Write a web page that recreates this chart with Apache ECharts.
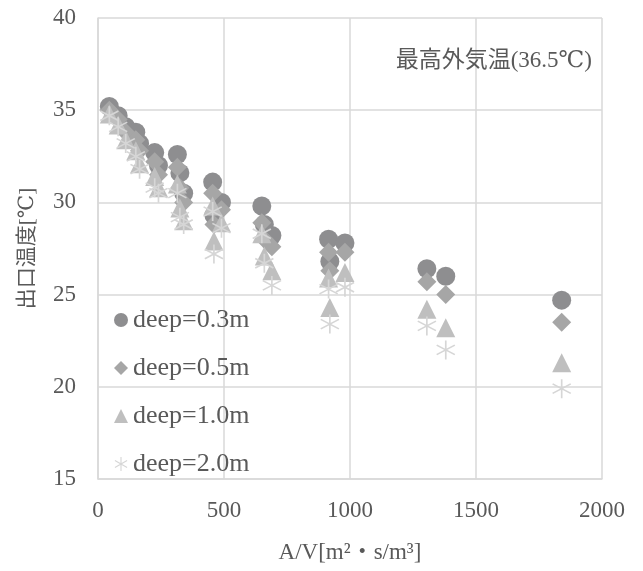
<!DOCTYPE html>
<html><head><meta charset="utf-8">
<script src="https://cdn.jsdelivr.net/npm/echarts@6/dist/echarts.min.js"></script>
<style>html,body{margin:0;padding:0;background:#fff}#c{width:643px;height:571px}</style>
</head><body><div id="c"></div>
<script>
const xValues = [45, 80, 110, 150, 165, 225, 240, 315, 325, 340, 455, 460, 490, 650, 660, 690, 915, 920, 980, 1305, 1380, 1840];
const deep03 = [35.2, 34.7, 34.1, 33.8, 33.2, 32.7, 32.0, 32.6, 31.6, 30.5, 31.1, 29.3, 30.0, 29.8, 28.8, 28.2, 28.0, 26.8, 27.8, 26.4, 26.0, 24.7];
const deep05 = [35.0, 34.5, 33.8, 33.4, 32.8, 32.2, 31.5, 31.9, 30.8, 30.0, 30.5, 28.8, 29.6, 28.9, 28.0, 27.6, 27.3, 26.3, 27.3, 25.7, 25.0, 23.5];
const deep10 = [34.8, 34.2, 33.4, 32.8, 32.1, 31.4, 30.8, 31.0, 29.7, 29.0, 29.8, 27.9, 28.9, 28.3, 27.1, 26.3, 25.9, 24.3, 26.2, 24.2, 23.2, 21.3];
const deep20 = [34.7, 34.1, 33.2, 32.5, 31.8, 30.8, 30.5, 30.5, 29.2, 28.8, 29.5, 27.2, 28.6, 28.3, 26.7, 25.5, 25.3, 23.4, 25.4, 23.3, 22.0, 19.9];
const seriesNames = ['deep=0.3m', 'deep=0.5m', 'deep=1.0m', 'deep=2.0m'];
const xTicks = [0, 500, 1000, 1500, 2000];
const yTicks = [15, 20, 25, 30, 35, 40];
const annotation = '最高外気温(36.5℃)';
const xName = 'A/V[m²・s/m³]';
const yName = '出口温度[℃]';

const FONT = '"Liberation Serif", "DejaVu Serif", "Noto Sans CJK JP", serif';
const TXT = '#595959';
const GRID = '#d9d9d9';
const star = 'path://M-0.8,10 L-0.8,-10 L0.8,-10 L0.8,10 Z M8.26,5.693 L-9.06,-4.307 L-8.26,-5.693 L9.06,4.307 Z M9.06,-4.307 L-8.26,5.693 L-9.06,4.307 L8.26,-5.693 Z';

function pts(ys){ return xValues.map((x,i)=>[x, ys[i]]); }
const chart = echarts.init(document.getElementById('c'), null, {renderer:'canvas'});
const symbols = ['circle','diamond','triangle',star];
const colors = ['#8e8e90','#a6a6a6','#bfbfbf','#d6d6d6'];
const sizes = [19,19,19,19];
const data = [deep03, deep05, deep10, deep20];
chart.setOption({
  animation:false,
  textStyle:{fontFamily:FONT},
  title:{text:annotation, right:46, top:44, textStyle:{fontFamily:FONT, fontSize:23, fontWeight:'normal', color:TXT}},
  grid:{left:98, right:41, top:18, bottom:92, containLabel:false},
  legend:{orient:'vertical', left:109, top:302, itemGap:22, itemWidth:14, itemHeight:14,
    textStyle:{fontFamily:FONT, fontSize:26, color:TXT, padding:[0,0,0,0]},
    data: seriesNames.map((n,i)=>({name:n, icon: i===3?star:symbols[i]}))},
  xAxis:{type:'value', min:xTicks[0], max:xTicks[xTicks.length-1], interval:500,
    name:xName, nameLocation:'middle', nameGap:62, nameTextStyle:{fontFamily:FONT, fontSize:23, color:TXT},
    axisLine:{show:true, lineStyle:{color:GRID, width:1.5}}, axisTick:{show:false},
    axisLabel:{fontFamily:FONT, fontSize:23, color:TXT, margin:20, formatter:v=>String(v)},
    splitLine:{show:true, lineStyle:{color:GRID, width:1.5}}},
  yAxis:{type:'value', min:yTicks[0], max:yTicks[yTicks.length-1], interval:5,
    name:yName, nameLocation:'middle', nameGap:60, nameTextStyle:{fontFamily:FONT, fontSize:21, color:TXT},
    axisLine:{show:true, lineStyle:{color:GRID, width:1.5}}, axisTick:{show:false},
    axisLabel:{fontFamily:FONT, fontSize:23, color:TXT, margin:22},
    splitLine:{show:true, lineStyle:{color:GRID, width:1.5}}},
  series: data.map((d,i)=>({name:seriesNames[i], type:'scatter', symbol:symbols[i], symbolSize:sizes[i],
    itemStyle:{color:colors[i], opacity:1}, data:pts(d), z:2+i}))
});
</script></body></html>
